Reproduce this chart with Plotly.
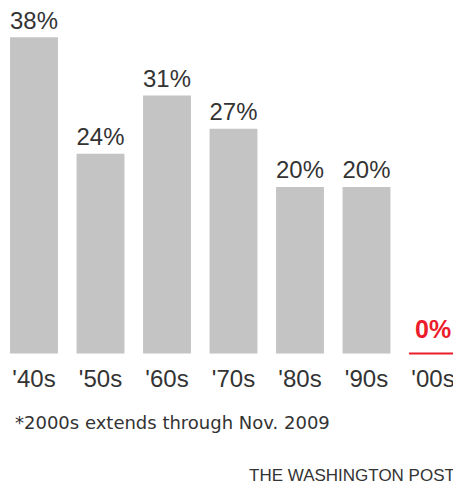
import plotly.graph_objects as go

decades = ["'40s", "'50s", "'60s", "'70s", "'80s", "'90s", "'00s"]
shares = [38, 24, 31, 27, 20, 20, 0]

FONT = "Liberation Sans"
GRAY = "#c4c4c4"
TEXT = "#333333"
RED = "#ec1c2a"
BAR_W = 0.72

idx = list(range(len(decades)))
labels = [f"{v}%" if v > 0 else "" for v in shares]

fig = go.Figure()
fig.add_trace(go.Bar(
    x=idx, y=shares, width=BAR_W,
    marker=dict(color=GRAY, line=dict(width=0)),
    text=labels, textposition="outside", cliponaxis=False,
    textfont=dict(family=FONT, size=26, color=TEXT),
    hoverinfo="skip",
))

annotations = []
# red baseline and label for zero-valued decade(s)
for i, v in zip(idx, shares):
    if v == 0:
        fig.add_trace(go.Scatter(
            x=[i - BAR_W / 2, i + BAR_W / 2], y=[v, v], mode="lines",
            line=dict(color=RED, width=2), hoverinfo="skip", cliponaxis=False,
        ))
        annotations.append(dict(
            x=i, y=v, xref="x", yref="y", text=f"<b>{v}%</b>", showarrow=False,
            xanchor="center", yanchor="bottom", yshift=9,
            font=dict(family=FONT, size=25, color=RED)))

annotations += [
    dict(text="*2000s extends through Nov. 2009", xref="paper", yref="paper",
         x=0.01, y=-0.1925, xanchor="left", yanchor="middle", showarrow=False,
         font=dict(family="DejaVu Sans", size=18, color=TEXT)),
    dict(text="THE WASHINGTON POST", xref="paper", yref="paper",
         x=0.991, y=-0.342, xanchor="right", yanchor="middle", showarrow=False,
         font=dict(family=FONT, size=17, color=TEXT)),
]

fig.update_layout(
    width=453, height=477,
    margin=dict(l=0, r=0, t=0, b=129),
    paper_bgcolor="white", plot_bgcolor="white",
    showlegend=False,
    font=dict(family=FONT, color=TEXT),
    xaxis=dict(range=[-0.391, 6.421], tickvals=idx, ticktext=decades,
               tickfont=dict(family=FONT, size=24, color=TEXT),
               showgrid=False, zeroline=False, showline=False, ticks="",
               ticklabelstandoff=6, fixedrange=True),
    yaxis=dict(range=[-0.3, 41.5], visible=False, fixedrange=True),
    annotations=annotations,
)

fig.write_html("out.html")
